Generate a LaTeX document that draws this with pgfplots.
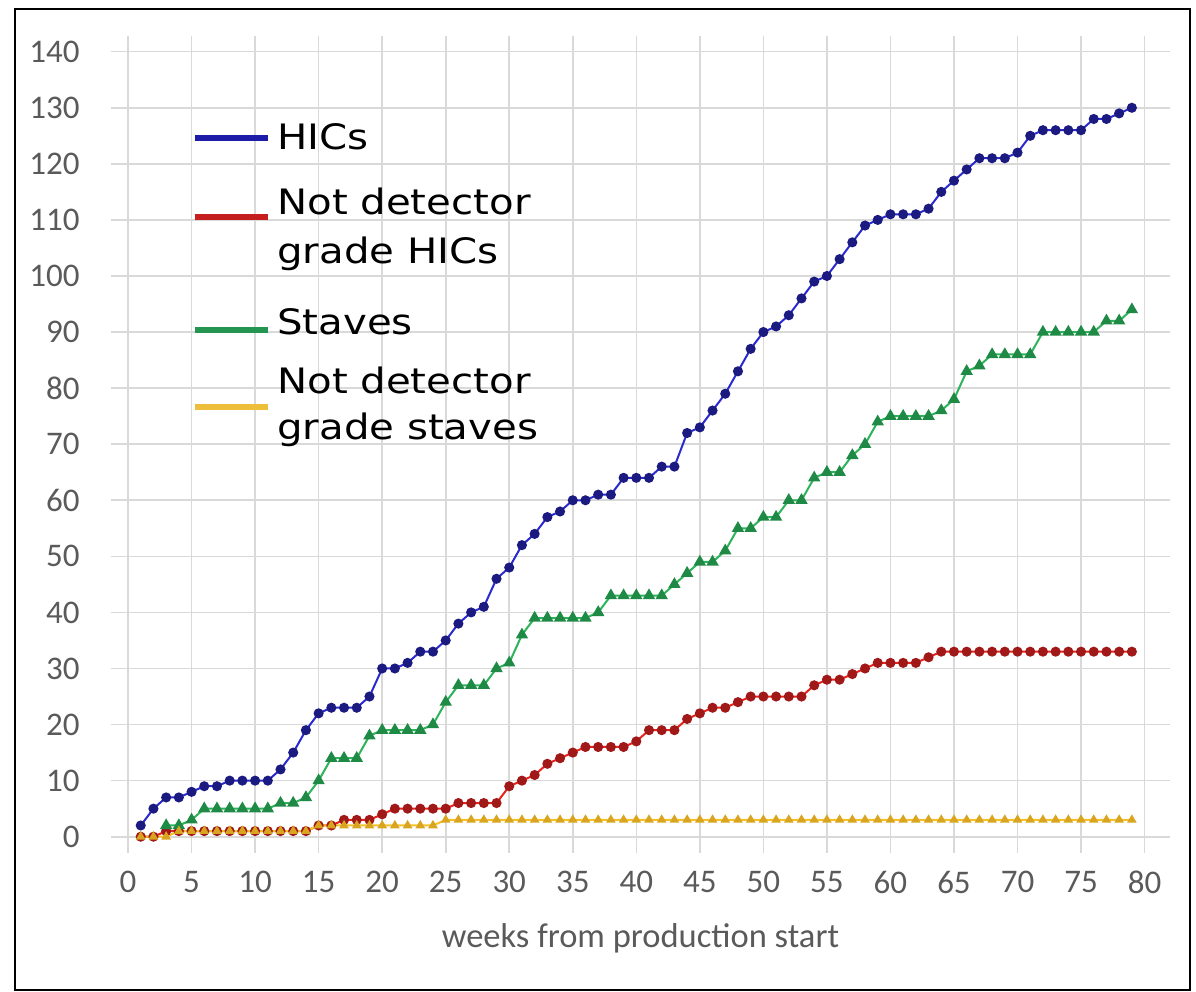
\documentclass[border=0pt]{standalone}
\usepackage{pgfplots}
\pgfplotsset{compat=1.18}
\usepackage{fontspec}
\setmainfont{DejaVu Sans}
\newfontfamily\legfont[FakeStretch=1.15]{DejaVu Sans}
\newfontfamily\carl{Carlito}
\definecolor{hicline}{HTML}{2A2AD0}
\definecolor{hicmark}{HTML}{1A1A80}
\definecolor{redline}{HTML}{E8231C}
\definecolor{redmark}{HTML}{A01818}
\definecolor{grnline}{HTML}{2DB35A}
\definecolor{grnmark}{HTML}{1E8A45}
\definecolor{yelline}{HTML}{F5C02A}
\definecolor{yelmark}{HTML}{D9A520}
\definecolor{legblue}{HTML}{1C1CA8}
\definecolor{legred}{HTML}{C41E1E}
\definecolor{leggrn}{HTML}{239550}
\definecolor{legyel}{HTML}{EDBE3A}
\definecolor{gridc}{HTML}{D9D9D9}
\definecolor{tickc}{HTML}{5A5A5A}

\pgfplotstableread{
w v
1 2
2 5
3 7
4 7
5 8
6 9
7 9
8 10
9 10
10 10
11 10
12 12
13 15
14 19
15 22
16 23
17 23
18 23
19 25
20 30
21 30
22 31
23 33
24 33
25 35
26 38
27 40
28 41
29 46
30 48
31 52
32 54
33 57
34 58
35 60
36 60
37 61
38 61
39 64
40 64
41 64
42 66
43 66
44 72
45 73
46 76
47 79
48 83
49 87
50 90
51 91
52 93
53 96
54 99
55 100
56 103
57 106
58 109
59 110
60 111
61 111
62 111
63 112
64 115
65 117
66 119
67 121
68 121
69 121
70 122
71 125
72 126
73 126
74 126
75 126
76 128
77 128
78 129
79 130
}\hics

\pgfplotstableread{
w v
1 0
2 0
3 1
4 1
5 1
6 1
7 1
8 1
9 1
10 1
11 1
12 1
13 1
14 1
15 2
16 2
17 3
18 3
19 3
20 4
21 5
22 5
23 5
24 5
25 5
26 6
27 6
28 6
29 6
30 9
31 10
32 11
33 13
34 14
35 15
36 16
37 16
38 16
39 16
40 17
41 19
42 19
43 19
44 21
45 22
46 23
47 23
48 24
49 25
50 25
51 25
52 25
53 25
54 27
55 28
56 28
57 29
58 30
59 31
60 31
61 31
62 31
63 32
64 33
65 33
66 33
67 33
68 33
69 33
70 33
71 33
72 33
73 33
74 33
75 33
76 33
77 33
78 33
79 33
}\badhics

\pgfplotstableread{
w v
3 2
4 2
5 3
6 5
7 5
8 5
9 5
10 5
11 5
12 6
13 6
14 7
15 10
16 14
17 14
18 14
19 18
20 19
21 19
22 19
23 19
24 20
25 24
26 27
27 27
28 27
29 30
30 31
31 36
32 39
33 39
34 39
35 39
36 39
37 40
38 43
39 43
40 43
41 43
42 43
43 45
44 47
45 49
46 49
47 51
48 55
49 55
50 57
51 57
52 60
53 60
54 64
55 65
56 65
57 68
58 70
59 74
60 75
61 75
62 75
63 75
64 76
65 78
66 83
67 84
68 86
69 86
70 86
71 86
72 90
73 90
74 90
75 90
76 90
77 92
78 92
79 94
}\staves

\pgfplotstableread{
w v
1 0
2 0
3 0
4 1
5 1
6 1
7 1
8 1
9 1
10 1
11 1
12 1
13 1
14 1
15 2
16 2
17 2
18 2
19 2
20 2
21 2
22 2
23 2
24 2
25 3
26 3
27 3
28 3
29 3
30 3
31 3
32 3
33 3
34 3
35 3
36 3
37 3
38 3
39 3
40 3
41 3
42 3
43 3
44 3
45 3
46 3
47 3
48 3
49 3
50 3
51 3
52 3
53 3
54 3
55 3
56 3
57 3
58 3
59 3
60 3
61 3
62 3
63 3
64 3
65 3
66 3
67 3
68 3
69 3
70 3
71 3
72 3
73 3
74 3
75 3
76 3
77 3
78 3
79 3
}\badstaves

\begin{document}
\begin{tikzpicture}
\useasboundingbox (-55.5bp,-77.65bp) rectangle (542.5bp,418.35bp);
\draw[line width=1.1bp, black] (-48bp,-76.6bp) rectangle (539.5bp,413.7bp);
\begin{axis}[
  at={(0,0)}, anchor=south west,
  scale only axis, width=529.5bp, height=392.5bp,
  xmin=-1.34, xmax=82, ymin=0, ymax=140,
  xtick={0,5,...,80}, ytick={0,10,...,140},
  axis line style={draw=none},
  ytick style={draw=none},
  xtick style={draw=gridc, line width=0.8bp},
  tick align=outside, major tick length=8bp,
  grid=major, major grid style={color=gridc, line width=0.8bp},
  clip=false,
  /pgf/number format/assume math mode=true,
  ticklabel style={font=\carl\fontsize{16.5bp}{19bp}\selectfont, text=tickc},
  yticklabel style={xshift=-4.2bp},
  xticklabel style={yshift=-5.7bp},
  xlabel={weeks from production start},
  xlabel style={font=\carl\fontsize{17.25bp}{20bp}\selectfont, text=tickc, at={(axis description cs:0.5,0)}, anchor=center, yshift=-51bp},
]
\addplot[hicline, line width=1bp, mark=*, mark size=2bp, mark options={fill=hicmark, draw=hicmark}] table[x=w, y=v] {\hics};
\addplot[redline, line width=1bp, mark=*, mark size=2bp, mark options={fill=redmark, draw=redmark}] table[x=w, y=v] {\badhics};
\addplot[grnline, line width=1bp, mark=triangle*, mark size=2.6bp, mark options={fill=grnmark, draw=grnmark}] table[x=w, y=v] {\staves};
\addplot[yelline, line width=1bp, mark=triangle*, mark size=1.8bp, mark options={fill=yelmark, draw=yelmark}] table[x=w, y=v] {\badstaves};
\end{axis}
% legend keys and texts
\draw[legblue, line width=3bp] (42bp,349.2bp) -- (78.5bp,349.2bp);
\draw[legred, line width=3bp] (42bp,309.7bp) -- (78.5bp,309.7bp);
\draw[leggrn, line width=3bp] (42bp,253.35bp) -- (78.5bp,253.35bp);
\draw[legyel, line width=3bp] (42bp,215bp) -- (78.5bp,215bp);
\begin{scope}[every node/.style={anchor=base west, inner sep=0pt, font=\legfont\fontsize{17.5bp}{21bp}\selectfont, text=black}]
\node at (83bp,343.35bp) {HICs};
\node at (83bp,310.85bp) {Not detector};
\node at (83bp,286.7bp) {grade HICs};
\node at (83bp,250.85bp) {Staves};
\node at (83bp,221.7bp) {Not detector};
\node at (83bp,198.35bp) {grade staves};
\end{scope}
\end{tikzpicture}
\end{document}
